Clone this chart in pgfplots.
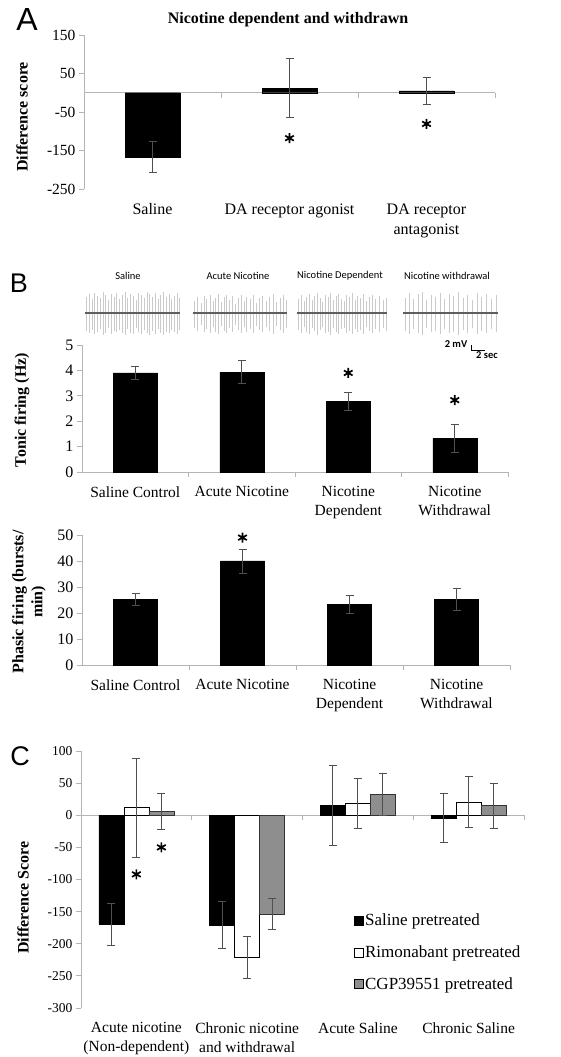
\documentclass[border=0pt]{standalone}
\usepackage{fontspec}
\setmainfont{Liberation Serif}
\newfontfamily\sansf{Carlito}
\newfontfamily\arialf{Liberation Sans}
\usepackage{pgfplots}
\pgfplotsset{compat=1.18}
\usepackage{pgfplotstable}

\definecolor{axgray}{HTML}{B4B4B4}
\definecolor{errgray}{HTML}{505050}
\definecolor{barmid}{HTML}{8E8E8E}
\definecolor{spike}{HTML}{CACACA}
\definecolor{trbase}{HTML}{5E5E5E}

% ---- electrophysiology traces: spike x position (px), height up, height down
\pgfplotstableread{
x u d
86 16 18
89 19 20
92 14 17
94 20 21
97 17 19
100 15 16
103 21 22
105 18 20
108 13 15
111 19 21
114 16 18
116 20 19
119 14 17
122 18 20
125 21 22
127 15 16
130 19 20
133 17 21
136 13 15
138 20 19
141 18 21
144 15 17
147 21 20
149 19 22
152 16 18
155 20 21
158 14 16
160 18 20
163 21 22
166 16 19
169 19 20
171 14 17
174 17 19
177 20 21
179 15 17
}\trS
\pgfplotstableread{
x u d
194 12 15
197 16 18
201 10 12
204 17 19
206 14 16
210 18 20
213 12 14
215 15 19
218 19 21
221 11 13
224 16 18
226 18 20
229 13 15
232 17 19
235 9 12
238 15 17
241 18 20
244 12 14
246 16 19
250 14 16
253 18 20
256 10 13
259 15 17
262 17 19
266 12 14
269 16 18
273 19 21
276 11 13
280 15 17
283 18 20
286 13 15
}\trA
\pgfplotstableread{
x u d
298 14 17
301 18 20
304 12 14
306 16 19
309 19 21
312 13 15
314 17 18
317 20 22
320 15 17
322 11 14
325 18 20
328 16 19
330 20 22
333 13 15
336 17 19
338 19 21
341 14 16
344 12 15
346 18 20
349 16 18
352 20 21
355 13 16
357 17 19
360 15 17
363 19 21
366 12 14
369 16 18
372 18 20
375 14 16
379 17 19
383 13 15
386 15 18
}\trD
\pgfplotstableread{
x u d
405 15 18
409 20 21
413 14 16
418 19 20
422 21 22
426 13 15
431 18 19
435 16 18
440 20 21
444 14 16
449 19 20
453 17 19
458 21 22
463 15 17
467 18 20
472 13 15
477 20 21
481 16 18
486 19 20
491 14 16
496 18 19
}\trW

\pgfplotsset{
  panel/.style={
    scale only axis, clip=false,
    axis y line*=left, axis x line*=bottom,
    x axis line style={draw=none},
    y axis line style={axgray, line width=0.8pt},
    ytick style={axgray, line width=0.8pt},
    xtick style={draw=none},
    tick align=outside, major tick length=5pt,
    /pgf/number format/assume math mode=true,
    xticklabel style={align=center, anchor=north, text=black},
    yticklabel style={text=black},
    ylabel style={font=\bfseries\fontsize{16}{19}\selectfont, align=center, anchor=center},
  },
  errstyle/.style={error bars/.cd, y dir=both, y explicit,
    error bar style={draw=errgray, line width=0.9pt},
    error mark options={rotate=90, draw=errgray, line width=0.9pt, mark size=4pt}},
  errplot/.style={draw=none, mark=none, forget plot, errstyle},
  star/.style={only marks, mark=asterisk, mark size=5pt, line width=1.7pt, black},
  spk/.style={ycomb, spike, line width=0.5pt, mark=none},
}

\begin{document}
\begin{tikzpicture}
\path[use as bounding box] (0,0) rectangle (561pt,1057pt);

\node[font=\arialf\fontsize{32}{32}\selectfont] at (27pt,1037pt) {A};
\node[font=\arialf\fontsize{27}{27}\selectfont] at (19pt,774pt) {B};
\node[font=\arialf\fontsize{27}{27}\selectfont] at (20pt,301pt) {C};
\node[font=\bfseries\fontsize{16}{19}\selectfont] at (288pt,1037pt) {Nicotine dependent and withdrawn};

% ================= Panel A
\begin{axis}[panel, at={(84pt,1022pt)}, anchor=north west, width=411pt, height=154pt,
  xmin=-0.5, xmax=2.5, ymin=-250, ymax=150, ytick={-250,-150,-50,50,150},
  xtick={0,1,2}, xticklabels={Saline, DA receptor agonist, {DA receptor\\antagonist}},
  yticklabel style={font=\fontsize{15.5}{18}\selectfont},
  xticklabel style={font=\fontsize{16}{20}\selectfont, yshift=-6pt},
  ylabel={Difference score},
  ylabel style={at={([xshift=-62pt,yshift=-5pt]rel axis cs:0,0.5)}}]
\draw[axgray, line width=0.8pt] (axis cs:-0.5,0) -- (axis cs:2.5,0);
\draw[axgray, line width=0.8pt] (axis cs:0.5,0) -- ++(0pt,-5pt);
\draw[axgray, line width=0.8pt] (axis cs:1.5,0) -- ++(0pt,-5pt);
\draw[axgray, line width=0.8pt] (axis cs:2.5,0) -- ++(0pt,-5pt);
\addplot[ybar, bar width=55pt, bar shift=0pt, fill=black, draw=black]
  coordinates {(0,-167) (1,12) (2,5)};
\addplot[errplot] coordinates {(0,-167) +- (0,40) (1,12) +- (0,77) (2,5) +- (0,35)};
\addplot[star] coordinates {(1,-118) (2,-81)};
\end{axis}

% ================= Panel B traces
\begin{axis}[scale only axis, hide axis, clip=false, at={(0pt,744pt)}, anchor=west,
  width=561pt, height=80pt, xmin=0, xmax=561, ymin=-40, ymax=40]
\addplot[spk] table[x=x,y=u] {\trS};
\addplot[spk] table[x=x,y expr=-\thisrow{d}] {\trS};
\addplot[spk] table[x=x,y=u] {\trA};
\addplot[spk] table[x=x,y expr=-\thisrow{d}] {\trA};
\addplot[spk] table[x=x,y=u] {\trD};
\addplot[spk] table[x=x,y expr=-\thisrow{d}] {\trD};
\addplot[spk] table[x=x,y=u] {\trW};
\addplot[spk] table[x=x,y expr=-\thisrow{d}] {\trW};
\addplot[trbase, line width=2.2pt] coordinates {(85,0) (180,0)};
\addplot[trbase, line width=2.2pt] coordinates {(193,0) (287,0)};
\addplot[trbase, line width=2.2pt] coordinates {(297,0) (387,0)};
\addplot[trbase, line width=2.2pt] coordinates {(403,0) (498,0)};
\addplot[black, line width=0.7pt] coordinates {(471,-32) (471,-37) (485,-37)};
\node[font=\sansf\fontsize{10.5}{12}\selectfont] at (axis cs:128,37) {Saline};
\node[font=\sansf\fontsize{10.5}{12}\selectfont] at (axis cs:238,37) {Acute Nicotine};
\node[font=\sansf\fontsize{10.5}{12}\selectfont] at (axis cs:340,37) {Nicotine Dependent};
\node[font=\sansf\fontsize{10.5}{12}\selectfont] at (axis cs:447,37) {Nicotine withdrawal};
\node[font=\sansf\bfseries\fontsize{10.5}{12}\selectfont] at (axis cs:456,-31) {2 mV};
\node[font=\sansf\bfseries\fontsize{10.5}{12}\selectfont] at (axis cs:487,-42) {2 sec};
\end{axis}

% ================= Panel B tonic
\begin{axis}[panel, at={(82pt,712pt)}, anchor=north west, width=426pt, height=127pt,
  xmin=-0.5, xmax=3.5, ymin=0, ymax=5, ytick={0,1,2,3,4,5},
  xtick={0,1,2,3}, xticklabels={Saline Control, Acute Nicotine, {Nicotine\\Dependent}, {Nicotine\\Withdrawal}},
  yticklabel style={font=\fontsize{16}{18}\selectfont},
  xticklabel style={font=\fontsize{15.5}{19}\selectfont, yshift=-6pt},
  ylabel={Tonic firing (Hz)},
  ylabel style={at={([xshift=-60pt,yshift=-1.5pt]rel axis cs:0,0.5)}}]
\draw[axgray, line width=0.8pt] (axis cs:-0.5,0) -- (axis cs:3.5,0);
\draw[axgray, line width=0.8pt] (axis cs:0.5,0) -- ++(0pt,-5pt);
\draw[axgray, line width=0.8pt] (axis cs:1.5,0) -- ++(0pt,-5pt);
\draw[axgray, line width=0.8pt] (axis cs:2.5,0) -- ++(0pt,-5pt);
\draw[axgray, line width=0.8pt] (axis cs:3.5,0) -- ++(0pt,-5pt);
\addplot[ybar, bar width=44pt, bar shift=0pt, fill=black, draw=black]
  coordinates {(0,3.9) (1,3.93) (2,2.78) (3,1.32)};
\addplot[errplot] coordinates {(0,3.9) +- (0,0.27) (1,3.93) +- (0,0.45) (2,2.78) +- (0,0.35) (3,1.32) +- (0,0.55)};
\addplot[star] coordinates {(2,3.9) (3,2.83)};
\end{axis}

% ================= Panel B phasic
\begin{axis}[panel, at={(82pt,522pt)}, anchor=north west, width=428pt, height=130pt,
  xmin=-0.5, xmax=3.5, ymin=0, ymax=50, ytick={0,10,20,30,40,50},
  xtick={0,1,2,3}, xticklabels={Saline Control, Acute Nicotine, {Nicotine\\Dependent}, {Nicotine\\Withdrawal}},
  yticklabel style={font=\fontsize{16}{18}\selectfont},
  xticklabel style={font=\fontsize{15.5}{19}\selectfont, yshift=-6pt},
  ylabel={Phasic firing (bursts/\\min)},
  ylabel style={at={([xshift=-53pt,yshift=-2pt]rel axis cs:0,0.5)}}]
\draw[axgray, line width=0.8pt] (axis cs:-0.5,0) -- (axis cs:3.5,0);
\draw[axgray, line width=0.8pt] (axis cs:0.5,0) -- ++(0pt,-5pt);
\draw[axgray, line width=0.8pt] (axis cs:1.5,0) -- ++(0pt,-5pt);
\draw[axgray, line width=0.8pt] (axis cs:2.5,0) -- ++(0pt,-5pt);
\draw[axgray, line width=0.8pt] (axis cs:3.5,0) -- ++(0pt,-5pt);
\addplot[ybar, bar width=44pt, bar shift=0pt, fill=black, draw=black]
  coordinates {(0,25.3) (1,40) (2,23.3) (3,25.3)};
\addplot[errplot] coordinates {(0,25.3) +- (0,2.4) (1,40) +- (0,4.6) (2,23.3) +- (0,3.5) (3,25.3) +- (0,4.2)};
\addplot[star] coordinates {(1,49)};
\end{axis}

% ================= Panel C
\begin{axis}[panel, at={(81pt,306pt)}, anchor=north west, width=443pt, height=257pt,
  xmin=-0.5, xmax=3.5, ymin=-300, ymax=100, ytick={-300,-250,...,100},
  xtick={0,1,2,3}, xticklabels={{Acute nicotine\\(Non-dependent)}, {Chronic nicotine\\and withdrawal}, Acute Saline, Chronic Saline},
  yticklabel style={font=\fontsize{13.5}{16}\selectfont},
  xticklabel style={font=\fontsize{15.5}{19}\selectfont, yshift=-6pt},
  ylabel={Difference Score},
  ylabel style={at={([xshift=-58pt,yshift=-18pt]rel axis cs:0,0.5)}},
  legend style={at={(rel axis cs:0.615,0.367)}, anchor=north west, draw=none, fill=none,
    font=\fontsize{17}{20}\selectfont, row sep=18.5pt, inner sep=0pt,
    nodes={inner xsep=2pt, inner ysep=0pt}},
  legend cell align=left,
  legend image code/.code={\draw[#1, draw=black, line width=0.5pt] (0pt,-4.5pt) rectangle (9pt,4.5pt);}]
\draw[axgray, line width=0.8pt] (axis cs:-0.5,0) -- (axis cs:3.5,0);
\draw[axgray, line width=0.8pt] (axis cs:0.5,0) -- ++(0pt,-5pt);
\draw[axgray, line width=0.8pt] (axis cs:1.5,0) -- ++(0pt,-5pt);
\draw[axgray, line width=0.8pt] (axis cs:2.5,0) -- ++(0pt,-5pt);
\draw[axgray, line width=0.8pt] (axis cs:3.5,0) -- ++(0pt,-5pt);
\addplot[ybar, bar width=25pt, bar shift=-25pt, fill=black, draw=black]
  coordinates {(0,-170) (1,-171) (2,15) (3,-4)};
\addlegendentry{Saline pretreated}
\addplot[ybar, bar width=25pt, bar shift=0pt, fill=white, draw=black]
  coordinates {(0,12) (1,-221) (2,18) (3,21)};
\addlegendentry{Rimonabant pretreated}
\addplot[ybar, bar width=25pt, bar shift=25pt, fill=barmid, draw=black!80]
  coordinates {(0,6) (1,-154) (2,32) (3,15)};
\addlegendentry{CGP39551 pretreated}
% error bars (x positions offset by one bar width = 0.2257 category units)
\addplot[errplot] coordinates {(-0.2257,-170) +- (0,32) (0.7743,-171) +- (0,37) (1.7743,15) +- (0,62) (2.7743,-4) +- (0,38)};
\addplot[errplot] coordinates {(0,12) +- (0,77) (1,-221) +- (0,33) (2,18) +- (0,39) (3,21) +- (0,40)};
\addplot[errplot] coordinates {(0.2257,6) +- (0,28) (1.2257,-154) +- (0,24) (2.2257,32) +- (0,33) (3.2257,15) +- (0,35)};
\addplot[star, forget plot] coordinates {(0,-92) (0.2257,-50)};
\end{axis}
\end{tikzpicture}
\end{document}
